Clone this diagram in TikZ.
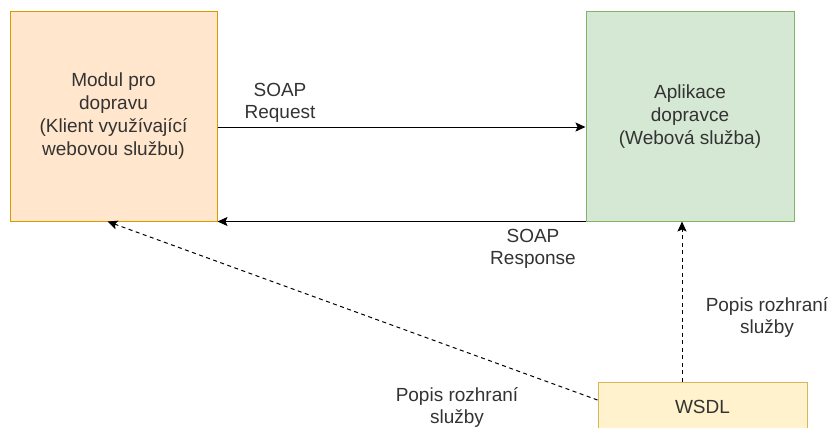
\documentclass[tikz,border=0pt]{standalone}
\usepackage{fontspec}
\setmainfont{Liberation Sans}
\usepackage{tikz}
\usetikzlibrary{positioning, calc, arrows.meta}

\definecolor{modulfill}{HTML}{FFE6CC}
\definecolor{modulline}{HTML}{D79B00}
\definecolor{aplfill}{HTML}{D5E8D4}
\definecolor{aplline}{HTML}{82B366}
\definecolor{wsdlfill}{HTML}{FFF2CC}
\definecolor{wsdlline}{HTML}{D6B656}
\definecolor{txt}{HTML}{333333}

\tikzset{
  box/.style={draw, line width=1pt, align=center, text=txt,
    font=\fontsize{19}{23}\selectfont},
  lbl/.style={align=center, text=txt, font=\fontsize{19}{22}\selectfont},
  msg/.style={line width=1pt, -{Stealth[length=10pt, width=9pt, inset=2pt]}},
  desc/.style={msg, dash pattern=on 4pt off 3.5pt},
}

\begin{document}
\begin{tikzpicture}[x=1pt, y=-1pt]
    \useasboundingbox (0, 0) rectangle (832, 428);

    % Boxes
    \node[box, fill=modulfill, draw=modulline, minimum width=207pt,
      minimum height=209pt] (modul) at (113.5, 116.5)
      {Modul pro\\dopravu\\(Klient využívající\\webovou službu)};
    \node[box, fill=aplfill, draw=aplline, minimum width=208pt,
      minimum height=209pt] (aplikace) at (690, 116.5)
      {Aplikace\\dopravce\\(Webová služba)};
    \node[box, fill=wsdlfill, draw=wsdlline, minimum width=209pt,
      minimum height=50pt] (wsdl) at (702.5, 407) {WSDL};

    % SOAP messages
    \draw[msg] ([yshift=-10.5pt]modul.east) -- ([yshift=-10.5pt]aplikace.west);
    \draw[msg] (aplikace.south west) -- (modul.south east);

    % Service description
    \coordinate (wsdltop) at ([xshift=-20.5pt]wsdl.north);
    \draw[desc] (wsdltop) -- (wsdltop |- aplikace.south);
    \draw[desc] ([yshift=7pt]wsdl.west) -- ([xshift=-6pt]modul.south);

    % The labels
    \node[lbl] (request) at (280, 102.5) {SOAP\\Request};
    \node[lbl] (response) at (533, 249) {SOAP\\Response};
    \node[lbl] (popisapl) at (767, 317.5) {Popis rozhraní\\služby};
    \node[lbl] (popismodul) at (457, 407) {Popis rozhraní\\služby};
\end{tikzpicture}
\end{document}
